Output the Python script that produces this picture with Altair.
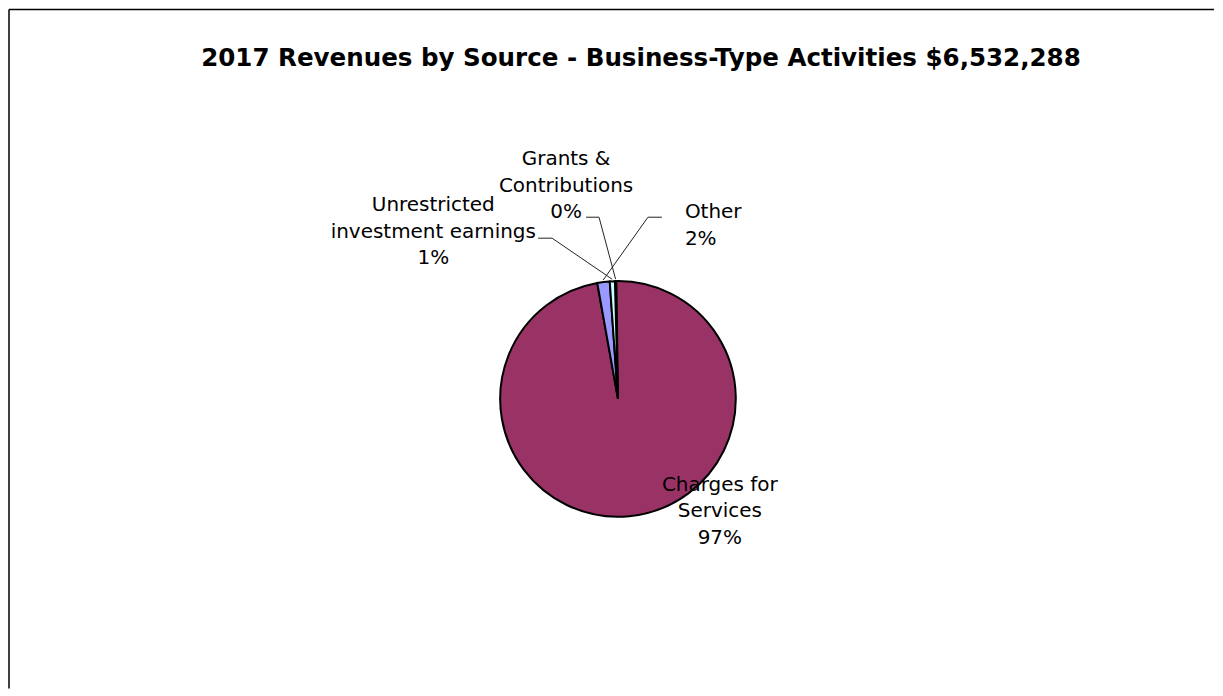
import math
import altair as alt
import pandas as pd

# ---- data ----
sources = ["Grants & Contributions", "Charges for Services", "Other",
           "Unrestricted investment earnings"]
values = [13064, 6362449, 111049, 45726]          # total $6,532,288
colors = ["#FFFFCC", "#993366", "#9999FF", "#CCFFFF"]
title_text = "2017 Revenues by Source - Business-Type Activities $6,532,288"

total = sum(values)
df = pd.DataFrame({"source": sources, "value": values, "ord": list(range(len(sources)))})

# ---- layout ----
W, H = 1207, 680
CX, CY, R = 610, 390, 118
START = math.radians(-1.5)

# slice mid angles (derived from the values) for leader-line ends
mid = {}
acc = 0.0
for s, v in zip(sources, values):
    a0 = START + 2 * math.pi * acc / total
    acc += v
    a1 = START + 2 * math.pi * acc / total
    mid[s] = (a0 + a1) / 2


def pct(s):
    return f"{round(100 * values[sources.index(s)] / total)}%"


label_layout = {
    "Grants & Contributions": dict(lines=["Grants &", "Contributions", pct("Grants & Contributions")],
                                   x=558, y0=156, align="center",
                                   lead=[(578, 208), (591, 208)]),
    "Unrestricted investment earnings": dict(lines=["Unrestricted", "investment earnings",
                                                    pct("Unrestricted investment earnings")],
                                             x=425, y0=202, align="center",
                                             lead=[(530, 229), (544, 229)]),
    "Other": dict(lines=["Other", pct("Other")], x=677, y0=209, align="left",
                  lead=[(654, 208), (640, 208)]),
    "Charges for Services": dict(lines=["Charges for", "Services", pct("Charges for Services")],
                                 x=712, y0=482, align="center", lead=None),
}
LINE_H = 26.5

text_rows, lead_rows = [], []
for s, lay in label_layout.items():
    for i, t in enumerate(lay["lines"]):
        text_rows.append(dict(t=t, x=lay["x"], y=lay["y0"] + i * LINE_H, align=lay["align"]))
    if lay["lead"]:
        pts = lay["lead"] + [(CX + (R + 2) * math.sin(mid[s]), CY - (R + 2) * math.cos(mid[s]))]
        for k, (px, py) in enumerate(pts):
            lead_rows.append(dict(source=s, k=k, x=px, y=py))

text_df = pd.DataFrame(text_rows)
lead_df = pd.DataFrame(lead_rows)

pie = alt.Chart(df).mark_arc(radius=R, stroke="black", strokeWidth=2).encode(
    theta=alt.Theta("value:Q", stack=True,
                    scale=alt.Scale(range=[START, START + 2 * math.pi])),
    color=alt.Color("source:N", scale=alt.Scale(domain=sources, range=colors), legend=None),
    order=alt.Order("ord:Q"),
    x=alt.value(CX),
    y=alt.value(CY),
)

leads = alt.Chart(lead_df).mark_line(color="#222222", strokeWidth=1).encode(
    x=alt.X("x:Q", scale=None),
    y=alt.Y("y:Q", scale=None),
    detail="source:N",
    order="k:Q",
)

def text_layer(align):
    return alt.Chart(text_df[text_df["align"] == align]).mark_text(
        font="DejaVu Sans", fontSize=20, color="black", align=align, baseline="alphabetic"
    ).encode(x=alt.X("x:Q", scale=None), y=alt.Y("y:Q", scale=None), text="t:N")

title = alt.Chart(pd.DataFrame({"t": [title_text]})).mark_text(
    font="DejaVu Sans", fontSize=24.6, fontWeight="bold", color="black",
    align="center", baseline="alphabetic"
).encode(x=alt.value(633), y=alt.value(57), text="t:N")

border_top = alt.Chart(pd.DataFrame({"a": [0]})).mark_rule(color="black", strokeWidth=1.5).encode(
    x=alt.value(0), x2=alt.value(W), y=alt.value(0))
border_left = alt.Chart(pd.DataFrame({"a": [0]})).mark_rule(color="black", strokeWidth=1.5).encode(
    x=alt.value(0), y=alt.value(0), y2=alt.value(H))

chart = alt.layer(
    pie, leads, text_layer("center"), text_layer("left"), title, border_top, border_left
).properties(width=W, height=H, padding=0).configure_view(stroke=None)

chart.save("out.html", embed_options={"renderer": "svg", "actions": False})
